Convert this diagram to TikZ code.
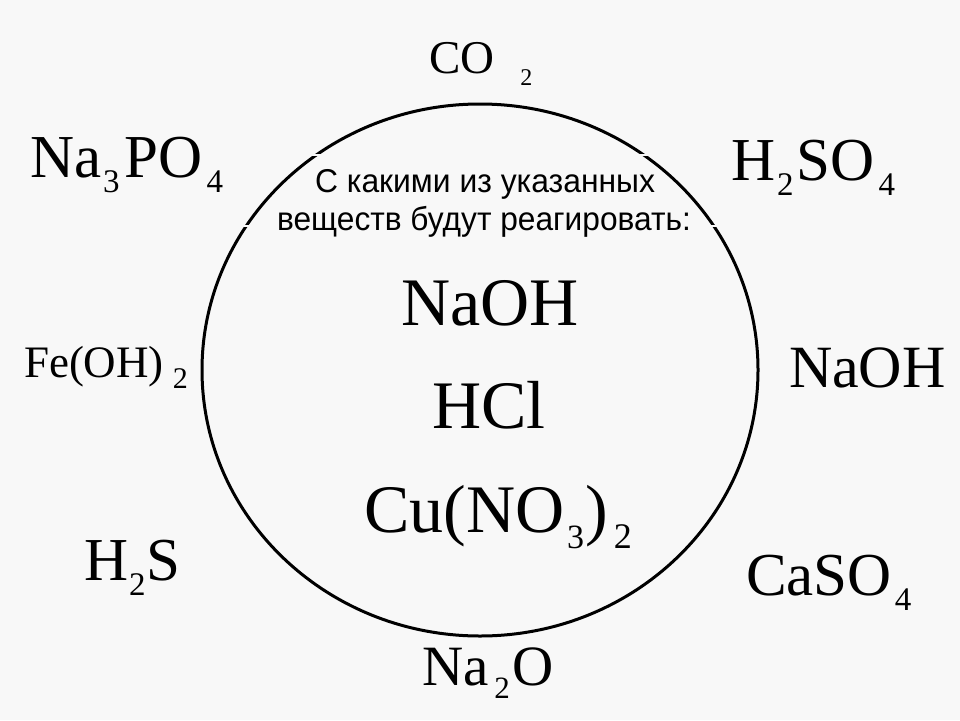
\documentclass[tikz,border=0pt]{standalone}
\usepackage{fontspec}
\setmainfont{Liberation Serif}
\newfontfamily\arialfont{Liberation Sans}
\definecolor{bgc}{RGB}{248,248,248}
\newcommand\fsz[1]{\fontsize{#1pt}{#1pt}\selectfont}
\newcommand\lowsub[3]{{\fsz{#1}\raisebox{-#2pt}{#3}}}
\begin{document}
\begin{tikzpicture}[x=1pt,y=-1pt,
  formula/.style={anchor=base west, inner sep=0pt, outer sep=0pt, text=black},
  question/.style={anchor=base, inner sep=0pt, outer sep=0pt, font=\arialfont\fsz{33}},
  ring/.style={line width=3pt, draw=black},
  notch/.style={draw=bgc, line width=1.2pt}]
\fill[bgc] (0,0) rectangle (960,720);
\useasboundingbox (0,0) rectangle (960,720);
\draw[ring] (480,370) ellipse [x radius=278pt, y radius=266pt];
% faint breaks where the text box edges cross the ring
\coordinate (n1a) at (308,155); \coordinate (n1b) at (322,155);
\coordinate (n2a) at (638,155); \coordinate (n2b) at (652,155);
\coordinate (n3a) at (240,226); \coordinate (n3b) at (253,226);
\coordinate (n4a) at (708,226); \coordinate (n4b) at (721,226);
\draw[notch] (n1a) -- (n1b);
\draw[notch] (n2a) -- (n2b);
\draw[notch] (n3a) -- (n3b);
\draw[notch] (n4a) -- (n4b);
% question
\node[question] (q1) at (485,192) {\scalebox{0.965}[1]{С какими из указанных}};
\node[question] (q2) at (484,230) {\scalebox{0.96}[1]{веществ будут реагировать:}};
% centre formulas
\node[formula] (naohc) at (401,325) {\fsz{68}NaOH};
\node[formula] (hcl) at (432,428) {\fsz{68}HCl};
\node[formula] (cuno) at (364,532) {\fsz{68}Cu(NO\kern3pt\lowsub{34}{16}{3}\kern1pt)\kern6pt\lowsub{36}{16}{2}};
% surrounding
\node[formula] (co2) at (429,73) {\fsz{47}CO\kern26pt\lowsub{24}{12}{2}};
\node[formula] (na3po4) at (30,177) {\fsz{61}Na\kern2pt\lowsub{33}{15}{3}\kern5pt PO\kern4pt\lowsub{33}{15}{4}};
\node[formula] (h2so4) at (731,180) {\fsz{61}H\kern2pt\lowsub{33}{15}{2}\kern3pt SO\kern4pt\lowsub{33}{15}{4}};
\node[formula] (feoh2) at (24,377) {\fsz{45}Fe(OH)\kern9pt\lowsub{30}{11}{2}};
\node[formula] (naohr) at (789,387) {\fsz{60}NaOH};
\node[formula] (h2s) at (84,580) {\fsz{61}H\kern1pt\lowsub{33}{15}{2}\kern1pt S};
\node[formula] (caso4) at (746,595) {\fsz{61}CaSO\kern3pt\lowsub{33}{15}{4}};
\node[formula] (na2o) at (422,685) {\fsz{57}Na\kern6pt\lowsub{31}{13}{2}\kern3pt O};
\end{tikzpicture}
\end{document}
